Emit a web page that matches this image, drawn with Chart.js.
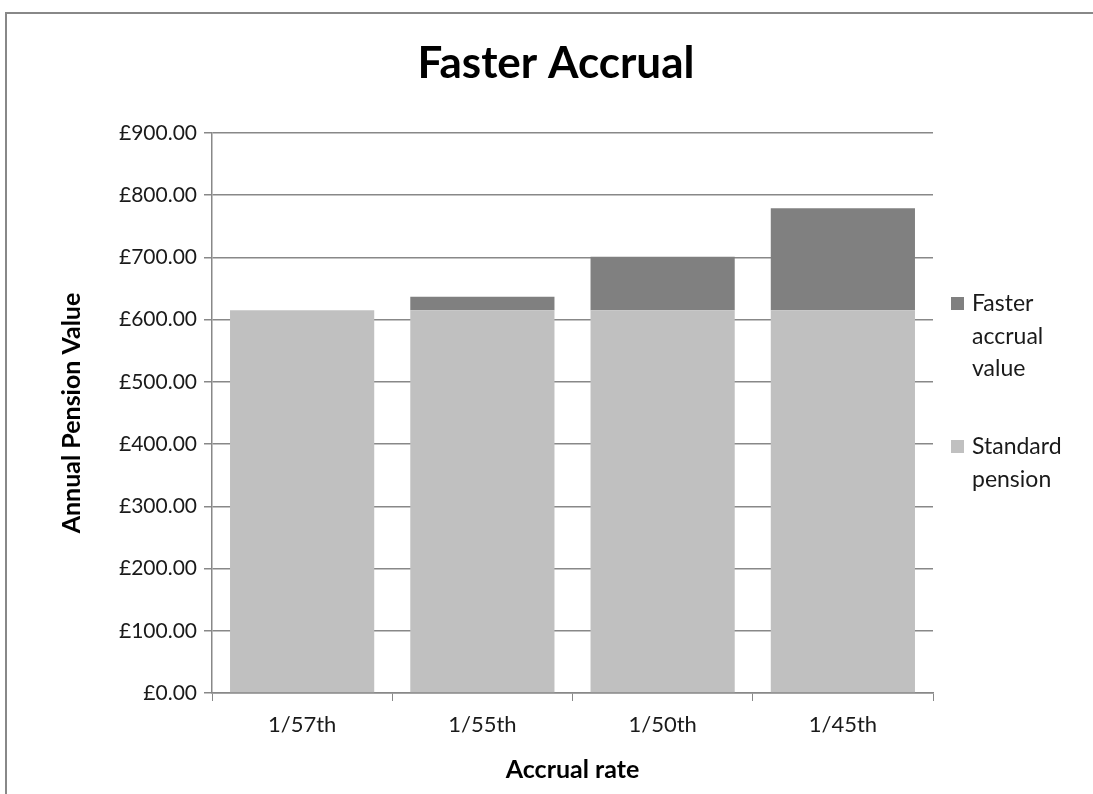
<!DOCTYPE html>
<html>
<head>
<meta charset="utf-8">
<title>Faster Accrual</title>
<script src="https://cdn.jsdelivr.net/npm/chart.js@4.4.1/dist/chart.umd.min.js"></script>
<style>
  html, body { margin: 0; padding: 0; background: #fff; overflow: hidden; }
  #wrap { position: relative; width: 1093px; height: 794px; }
</style>
</head>
<body>
<div id="wrap"><canvas id="accrualChart"></canvas></div>
<script>
// Data
const kategori = ["1/57th", "1/55th", "1/50th", "1/45th"];
const standard_pension = [615, 615, 615, 615];
const faster_accrual = [0, 22, 86, 164];
const judul = "Faster Accrual";
const label_legend = [["Faster", "accrual", "value"], ["Standard", "pension"]];
const warna = ["#808080", "#c0c0c0"];

const FONT = "Lato, 'Open Sans', sans-serif";
const TEKS = "#1a1a1a";

// Judul, legenda dan bingkai digambar manual
const hiasan = {
    id: "hiasan",
    beforeDraw(chart) {
        const ctx = chart.ctx;
        ctx.save();
        ctx.fillStyle = "#fff";
        ctx.fillRect(0, 0, chart.width, chart.height);
        ctx.strokeStyle = "#888";
        ctx.lineWidth = 2;
        ctx.beginPath();
        ctx.moveTo(6, chart.height);
        ctx.lineTo(6, 13);
        ctx.lineTo(chart.width, 13);
        ctx.stroke();
        ctx.restore();
    },
    afterDraw(chart) {
        const ctx = chart.ctx;
        const area = chart.chartArea;
        ctx.save();
        ctx.fillStyle = "#000";
        ctx.textAlign = "center";
        ctx.textBaseline = "middle";
        ctx.font = "bold 44px " + FONT;
        ctx.fillText(judul, 556, 64);

        ctx.font = "23px " + FONT;
        ctx.textAlign = "left";
        const posY = [304, 447];
        label_legend.forEach((baris, i) => {
            ctx.fillStyle = warna[i];
            ctx.fillRect(area.right + 18, posY[i] - 7, 13, 13);
            ctx.fillStyle = TEKS;
            baris.forEach((t, j) => ctx.fillText(t, area.right + 39, posY[i] + j * 32.5));
        });
        ctx.restore();
    }
};

new Chart(document.getElementById("accrualChart"), {
    type: "bar",
    data: {
        labels: kategori,
        datasets: [
            {
                label: "Standard pension",
                data: standard_pension,
                backgroundColor: warna[1],
                categoryPercentage: 1,
                barPercentage: 0.8
            },
            {
                label: "Faster accrual value",
                data: faster_accrual,
                backgroundColor: warna[0],
                categoryPercentage: 1,
                barPercentage: 0.8
            }
        ]
    },
    options: {
        responsive: true,
        maintainAspectRatio: false,
        animation: false,
        layout: { padding: { left: 50, right: 160, top: 133, bottom: 0 } },
        plugins: {
            legend: { display: false },
            title: { display: false },
            tooltip: { enabled: false }
        },
        scales: {
            x: {
                stacked: true,
                afterFit: s => { s.height = 101; },
                grid: { drawOnChartArea: false, drawTicks: true, tickLength: 8, color: "#888" },
                border: { color: "#888", width: 1.5 },
                ticks: { color: TEKS, padding: 11, font: { family: FONT, size: 22 } },
                title: {
                    display: true,
                    text: "Accrual rate",
                    color: "#000",
                    padding: { top: 0, bottom: 9 },
                    font: { family: FONT, size: 25, weight: "bold" }
                }
            },
            y: {
                stacked: true,
                min: 0,
                max: 900,
                afterFit: s => { s.width = 162; },
                grid: { color: "#888", lineWidth: 1.5, tickLength: 8 },
                border: { color: "#888", width: 1.5 },
                ticks: {
                    stepSize: 100,
                    color: TEKS,
                    padding: 7,
                    font: { family: FONT, size: 21 },
                    callback: v => "£" + v.toFixed(2)
                },
                title: {
                    display: true,
                    text: "Annual Pension Value",
                    color: "#000",
                    padding: { top: 7, bottom: 0 },
                    font: { family: FONT, size: 25, weight: "bold" }
                }
            }
        }
    },
    plugins: [hiasan]
});
</script>
</body>
</html>
